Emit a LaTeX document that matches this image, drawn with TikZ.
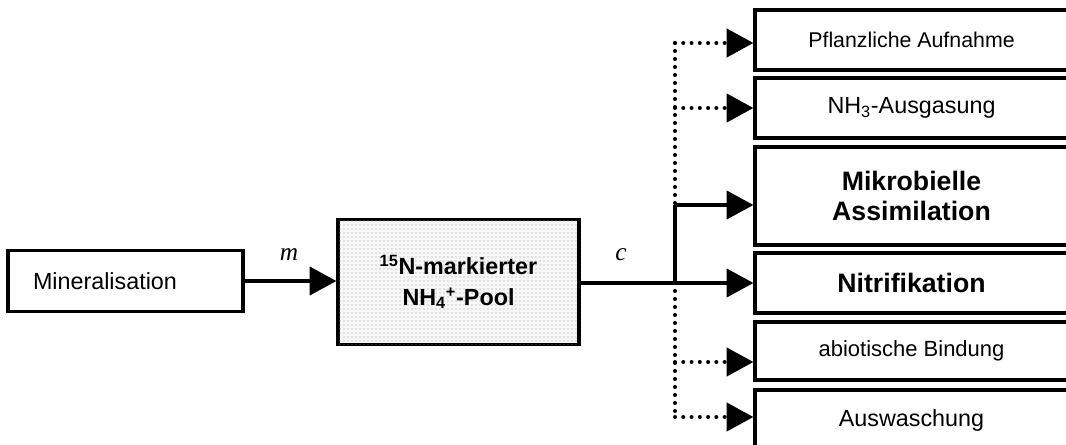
\documentclass[tikz,border=0pt]{standalone}
\usepackage{fontspec}
\setmainfont{Liberation Sans}
\newfontfamily\lblfont{Liberation Serif}
\usetikzlibrary{arrows.meta,patterns}
\begin{document}
\begin{tikzpicture}[x=0.75pt,y=-0.75pt,
  box/.style={draw, line width=2.4pt, inner sep=0pt, align=center,
    font=\fontsize{16.5pt}{20pt}\selectfont},
  rbox/.style={box, minimum width=234.75pt, minimum height=45pt},
  bbox/.style={rbox, font=\fontsize{20pt}{22.5pt}\selectfont\bfseries},
  flow/.style={line width=2.7pt, -{Triangle[length=20pt,width=21pt]}},
  dotflow/.style={line width=3pt, line cap=round, dash pattern=on 0pt off 6.2pt,
    -{Triangle[length=20pt,width=21pt]}},
  trunk/.style={line width=2.7pt},
  dottrunk/.style={line width=3pt, line cap=round, dash pattern=on 0pt off 6pt},
  lbl/.style={font=\lblfont\itshape\fontsize{19pt}{21pt}\selectfont}]
\useasboundingbox (0,0) rectangle (1066,445);
\clip (0,0) rectangle (1066,445);
% left boxes
\node[box, text width=138.75pt, inner xsep=18.75pt, align=left, minimum height=45.75pt,
  font=\fontsize{17.5pt}{20pt}\selectfont]
  (min) at (125.5,281) {Mineralisation};
\node[box, minimum width=180.75pt, minimum height=93.75pt, fill=gray!6,
  postaction={pattern=dots, pattern color=gray!80},
  font=\fontsize{17.5pt}{23pt}\selectfont\bfseries]
  (pool) at (458.5,282) {\textsuperscript{15}N-markierter\\NH\textsubscript{4}\textsuperscript{+}-Pool};
% right boxes
\node[rbox, font=\fontsize{16pt}{20pt}\selectfont] (b1) at (911.5,40) {Pflanzliche Aufnahme};
\node[rbox, font=\fontsize{17.5pt}{20pt}\selectfont] (b2) at (911.5,108) {NH\textsubscript{3}-Ausgasung};
\node[bbox, minimum height=73.5pt] (b3) at (911.5,196) {Mikrobielle\\Assimilation};
\node[bbox] (b4) at (911.5,283) {Nitrifikation};
\node[rbox, minimum height=43.5pt] (b5) at (911.5,351) {abiotische Bindung};
\node[rbox, font=\fontsize{17.5pt}{20pt}\selectfont] (b6) at (911.5,420) {Auswaschung};
% junctions on the distribution line
\coordinate (j1) at (675,43);
\coordinate (j2) at (675,108);
\coordinate (j3) at (675,205);
\coordinate (j4) at (675,283);
\coordinate (j5) at (675,362);
\coordinate (j6) at (675,417);
% labels
\node[lbl] (lm) at (289,255) {m};
\node[lbl] (lc) at (621,255) {c};
% connectors
\draw[flow] (min.east) -- (min.east -| pool.west);
\draw[dottrunk] (j1) -- (j6);
\draw[trunk] (j3) -- (j4);
\draw[flow] (pool.east |- j4) -- (j4 -| b4.west);
\draw[flow] (j3) -- (j3 -| b3.west);
\draw[dotflow] (j1) -- (j1 -| b1.west);
\draw[dotflow] (j2) -- (j2 -| b2.west);
\draw[dotflow] (j5) -- (j5 -| b5.west);
\draw[dotflow] (j6) -- (j6 -| b6.west);
\end{tikzpicture}
\end{document}
